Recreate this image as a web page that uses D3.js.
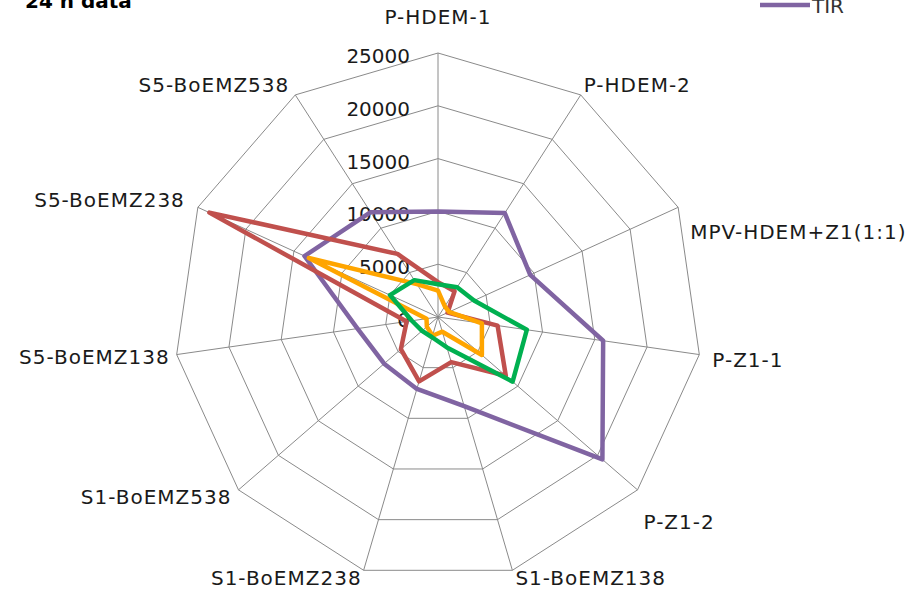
<!DOCTYPE html>
<html><head><meta charset="utf-8">
<script src="https://cdn.jsdelivr.net/npm/d3@7"></script>
<style>
html,body{margin:0;padding:0;background:#fff;}
svg{display:block;}
</style></head>
<body>
<script>
// ---- data ----
const categories = ["P-HDEM-1","P-HDEM-2","MPV-HDEM+Z1(1:1)","P-Z1-1","P-Z1-2","S1-BoEMZ138","S1-BoEMZ238","S1-BoEMZ538","S5-BoEMZ138","S5-BoEMZ238","S5-BoEMZ538"];
const tickValues = [0, 5000, 10000, 15000, 20000, 25000];
const tirValues    = [10000, 11700, 9600, 15800, 20600, 8800, 7100, 6750, 7700, 13900, 11800];
const redValues    = [3300, 2900, 1000, 5700, 8500, 4450, 6350, 4650, 3000, 23800, 7100];
const orangeValues = [2500, 1200, 1150, 4200, 5500, 1450, 1850, 1400, 1100, 13450, 3700];
const greenValues  = [3100, 3350, 3750, 8500, 9350, 3000, 2000, 2000, 2500, 5000, 4150];
const legendNames = ["TIR"];
const titleText = "24 h data";

// ---- layout ----
const W = 910, H = 593, cx = 438, cy = 317, R = 264;
const series = [
  {vals: tirValues, color: "#8064A2"},
  {vals: redValues, color: "#C0504D"},
  {vals: orangeValues, color: "#FFA500"},
  {vals: greenValues, color: "#00B050"}
];
// label center offsets relative to outer vertex
const labelOffsets = [[0,-36],[3,-10],[12,25],[13,5],[6,32],[3,8],[-2,8],[-7,7],[-7,2],[-13,-7],[-6,-10]];

const svg = d3.select("body").append("svg").attr("width", W).attr("height", H);
const r = d3.scaleLinear().domain([0, 25000]).range([0, R]);
const n = categories.length;
const ang = d3.scalePoint().domain(d3.range(n+1)).range([0, 2*Math.PI]);
const pt = (i, v) => [cx + r(v)*Math.sin(ang(i % n)), cy - r(v)*Math.cos(ang(i % n))];

const g = svg.append("g");
// rings
tickValues.filter(t => t > 0).forEach(t => {
  g.append("path")
    .attr("d", d3.line()(d3.range(n).map(i => pt(i, t))) + "Z")
    .attr("fill", "none").attr("stroke", "#8a8a8a").attr("stroke-width", 1);
});
// spokes
d3.range(n).forEach(i => {
  const p = pt(i, 25000);
  g.append("line").attr("x1", cx).attr("y1", cy).attr("x2", p[0]).attr("y2", p[1])
    .attr("stroke", "#8a8a8a").attr("stroke-width", 1);
});
// tick labels
tickValues.forEach(t => {
  g.append("text").attr("x", 410).attr("y", cy - r(t) + 3).attr("dy", "0.35em")
    .attr("text-anchor", "end").attr("font-family", "DejaVu Sans").attr("font-size", 20)
    .attr("fill", "#1a1a1a").text(d3.format("d")(t));
});
// category labels
categories.forEach((c, i) => {
  const p = pt(i, 25000);
  const o = labelOffsets[i];
  const s = Math.sin(ang(i));
  const anchor = Math.abs(s) < 0.1 ? "middle" : (s > 0 ? "start" : "end");
  g.append("text").attr("x", p[0] + o[0]).attr("y", p[1] + o[1]).attr("dy", "0.35em")
    .attr("text-anchor", anchor).attr("font-family", "DejaVu Sans").attr("font-size", 20)
    .attr("letter-spacing", "1px").attr("fill", "#1a1a1a").text(c);
});
// series
const line = d3.line().curve(d3.curveLinearClosed);
series.forEach(s => {
  g.append("path").attr("d", line(s.vals.map((v, i) => pt(i, v))))
    .attr("fill", "none").attr("stroke", s.color).attr("stroke-width", 4.5)
    .attr("stroke-linejoin", "round");
});
// legend (partially cropped at top as in reference)
svg.append("line").attr("x1", 760).attr("x2", 810).attr("y1", 5).attr("y2", 5)
  .attr("stroke", series[0].color).attr("stroke-width", 4.5);
svg.append("text").attr("x", 812).attr("y", 13).attr("font-family", "DejaVu Sans")
  .attr("font-size", 20).attr("fill", "#333").text(legendNames[0]);
// title (partially cropped)
svg.append("text").attr("x", 25).attr("y", 8).attr("font-family", "DejaVu Sans")
  .attr("font-weight", "bold").attr("font-size", 20).attr("fill", "#000").text(titleText);
</script>
</body></html>
